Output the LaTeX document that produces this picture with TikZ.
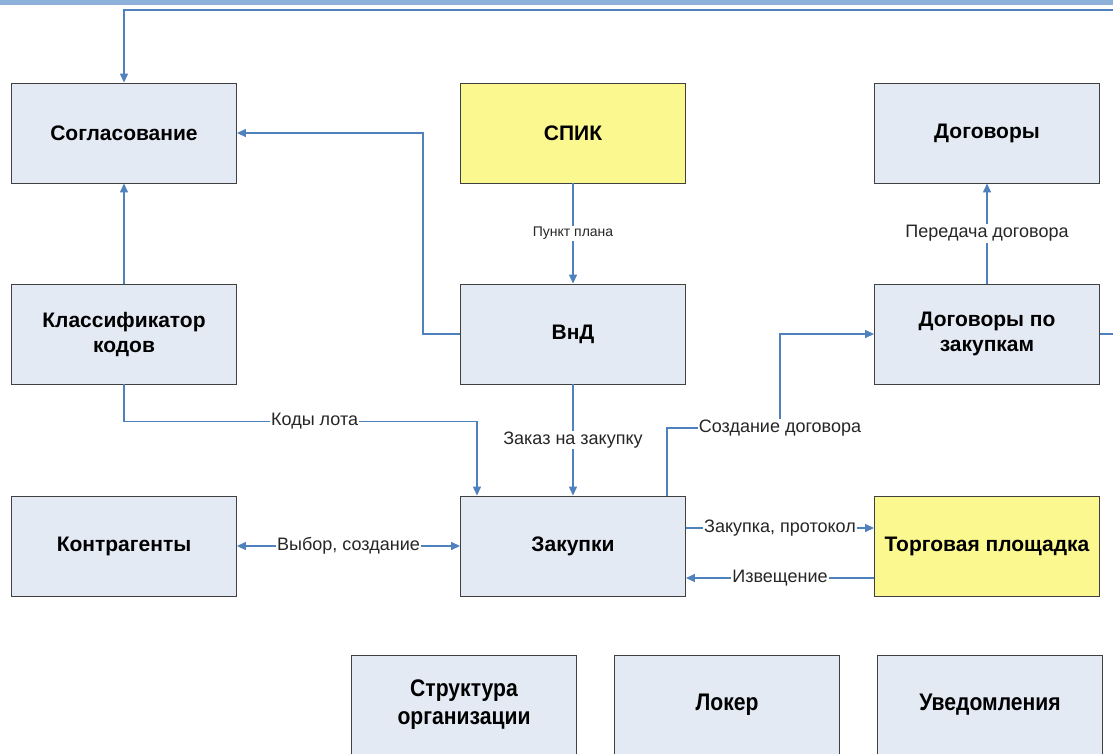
\documentclass[tikz,border=0pt]{standalone}
\usepackage{fontspec}
\setmainfont{Liberation Sans}
\newfontfamily\narrowfont[FakeStretch=0.88]{Liberation Sans}
\usetikzlibrary{arrows.meta,positioning}
\definecolor{boxblue}{HTML}{E4EAF4}
\definecolor{boxyellow}{HTML}{FCF890}
\definecolor{linkblue}{HTML}{4F81BD}
\definecolor{bandblue}{HTML}{8DB1D9}
\tikzset
{
    block/.style       = {draw=black!75, line width=0.9pt, fill=boxblue, align=center, minimum width=225pt, minimum height=100pt, font=\fontsize{21}{25}\selectfont\bfseries},
    yellowblock/.style = {block, fill=boxyellow},
    narrowblock/.style = {block, font=\fontsize{24}{28}\selectfont\narrowfont\bfseries},
    link/.style        = {draw=linkblue, line width=1.3pt},
    linklabel/.style   = {fill=white, inner sep=1pt, text=black!85, font=\fontsize{18}{20}\selectfont},
    smalllabel/.style  = {linklabel, font=\fontsize{14}{16}\selectfont}
}

\begin{document}
\begin{tikzpicture}[x=1pt, y=-1pt, >={Triangle[length=9pt,width=8pt]}]
    \clip (0,0) rectangle (1113,753);
    \fill[white] (0,0) rectangle (1113,753);
    \fill[bandblue] (0,0) rectangle (1113,5);

    % first row
    \node [block]       (sogl)   at (124,133) {Согласование};
    \node [yellowblock] (spik)   at (573,133) {СПИК};
    \node [block]       (dog)    at (987,133) {Договоры};
    % second row
    \node [block]       (klass)  at (124,334) {Классификатор\\кодов};
    \node [block]       (vnd)    at (573,334) {ВнД};
    \node [block]       (dogzak) at (987,334) {Договоры по\\закупкам};
    % third row
    \node [block]       (kontr)  at (124,546) {Контрагенты};
    \node [block]       (zak)    at (573,546) {Закупки};
    \node [yellowblock] (torg)   at (987,546) {Торговая площадка};
    % bottom row
    \node [narrowblock] (struct) at (464,705) {Структура\\организации};
    \node [narrowblock] (loker)  at (727,705) {Локер};
    \node [narrowblock] (uved)   at (990,705) {Уведомления};

    \coordinate (edge) at (1150,10);
    \coordinate (dogturn) at (780,428);

    \draw [link,->] (dogzak.east) -| (edge) -| (sogl.north);
    \draw [link,->] (vnd.west) -- ++(-37,0) |- (sogl.east);
    \draw [link,->] (klass) -- (sogl);
    \draw [link,->] (spik) -- node [smalllabel] {Пункт плана} (vnd);
    \draw [link,->] (klass.south) -- ++(0,37) -| node [linklabel, pos=0.27] {Коды лота} ([xshift=-96pt]zak.north);
    \draw [link,->] (vnd) -- node [linklabel] {Заказ на закупку} (zak);
    \draw [link,->] ([xshift=94pt]zak.north) |- (dogturn) |- (dogzak.west);
    \node [linklabel] at (dogturn) {Создание договора};
    \draw [link,->] (dogzak) -- node [linklabel] {Передача договора} (dog);
    \draw [link,<->] (kontr) -- node [linklabel] {Выбор, создание} (zak);
    \draw [link,->] ([yshift=18pt]zak.east) -- node [linklabel] {Закупка, протокол} ([yshift=18pt]torg.west);
    \draw [link,->] ([yshift=-32pt]torg.west) -- node [linklabel] {Извещение} ([yshift=-32pt]zak.east);
\end{tikzpicture}
\end{document}
